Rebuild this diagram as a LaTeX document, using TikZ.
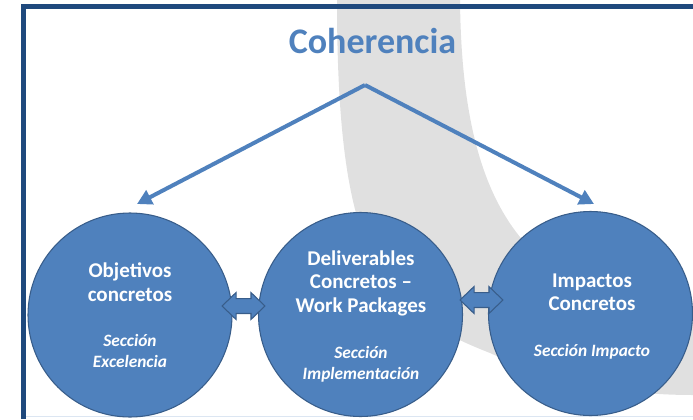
\documentclass[tikz,border=0pt]{standalone}
\usepackage{fontspec}
\setmainfont{Carlito}
\usetikzlibrary{arrows.meta}
\definecolor{cblue}{HTML}{4F81BD}
\definecolor{cedge}{HTML}{385D8A}
\definecolor{cframe}{HTML}{1F497D}
\definecolor{cband}{HTML}{E0E0E0}
\definecolor{cbottom}{HTML}{DCE6F2}
\begin{document}
\begin{tikzpicture}[x=0.75pt,y=-0.75pt,
  bubble/.style={circle, fill=cblue, draw=cedge, line width=0.8pt, minimum size=153pt, inner sep=0pt},
  mainline/.style={text=white, font=\fontsize{15.75}{19}\selectfont\bfseries, anchor=base, inner sep=0pt},
  secline/.style={text=white, font=\fontsize{13}{16}\selectfont\bfseries\itshape, anchor=base, inner sep=0pt},
  link/.style={draw=cblue, line width=3pt, -{Triangle[length=11pt,width=11.5pt]}},
  dblarrow/.style={fill=cblue, draw=cedge, line width=0.8pt, line join=miter}]
\useasboundingbox (0,0) rectangle (693,419);
% background band
\fill[cband] (337,0) -- (460,0) .. controls (462,200) and (520,300) .. (693,315)
  -- (693,395) .. controls (630,395) and (560,385) .. (490,353)
  .. controls (380,310) and (337,260) .. (337,0) -- cycle;
% frame
\draw[cbottom, line width=1.2pt] (26,416.5) -- (693,416.5);
\draw[cframe, line width=3.8pt] (23.3,419) -- (23.3,6.5) -- (693,6.5);
% title
\node[text=cblue, font=\fontsize{27}{32}\selectfont\bfseries, anchor=base, inner sep=0pt] (title) at (372.5,53) {Coherencia};
% circles
\node[bubble] (c1) at (130,315) {};
\node[bubble] (c2) at (360.5,314.5) {};
\node[bubble] (c3) at (590.5,313.5) {};
% connectors from the title
\coordinate (apex) at (365,85);
\coordinate (tipL) at (137,204);
\coordinate (tipR) at (594,204);
\draw[link] (apex) -- (tipL);
\draw[link] (apex) -- (tipR);
% double arrows
\coordinate (d1) at (243.5,306);
\coordinate (d2) at (481.5,300);
\foreach \d in {d1,d2}{
  \path[dblarrow] ([xshift=-16.1pt]\d) -- ([xshift=-5.6pt,yshift=10.1pt]\d) -- ([xshift=-5.6pt,yshift=5.6pt]\d)
    -- ([xshift=5.6pt,yshift=5.6pt]\d) -- ([xshift=5.6pt,yshift=10.1pt]\d) -- ([xshift=16.1pt]\d)
    -- ([xshift=5.6pt,yshift=-10.1pt]\d) -- ([xshift=5.6pt,yshift=-5.6pt]\d)
    -- ([xshift=-5.6pt,yshift=-5.6pt]\d) -- ([xshift=-5.6pt,yshift=-10.1pt]\d) -- cycle;
}
% texts circle 1
\node[mainline] (t11) at (130,277) {Objetivos};
\node[mainline] (t12) at (130,301) {concretos};
\node[secline] (t13) at (130,346) {Sección};
\node[secline] (t14) at (130,367) {Excelencia};
% texts circle 2
\node[mainline] (t21) at (361,265) {Deliverables};
\node[mainline] (t22) at (361,288) {Concretos –};
\node[mainline] (t23) at (361,312) {Work Packages};
\node[secline] (t24) at (361,358) {Sección};
\node[secline] (t25) at (361,379) {Implementación};
% texts circle 3
\node[mainline] (t31) at (592,287) {Impactos};
\node[mainline] (t32) at (592,310) {Concretos};
\node[secline] (t33) at (592,356) {Sección Impacto};
\end{tikzpicture}
\end{document}
